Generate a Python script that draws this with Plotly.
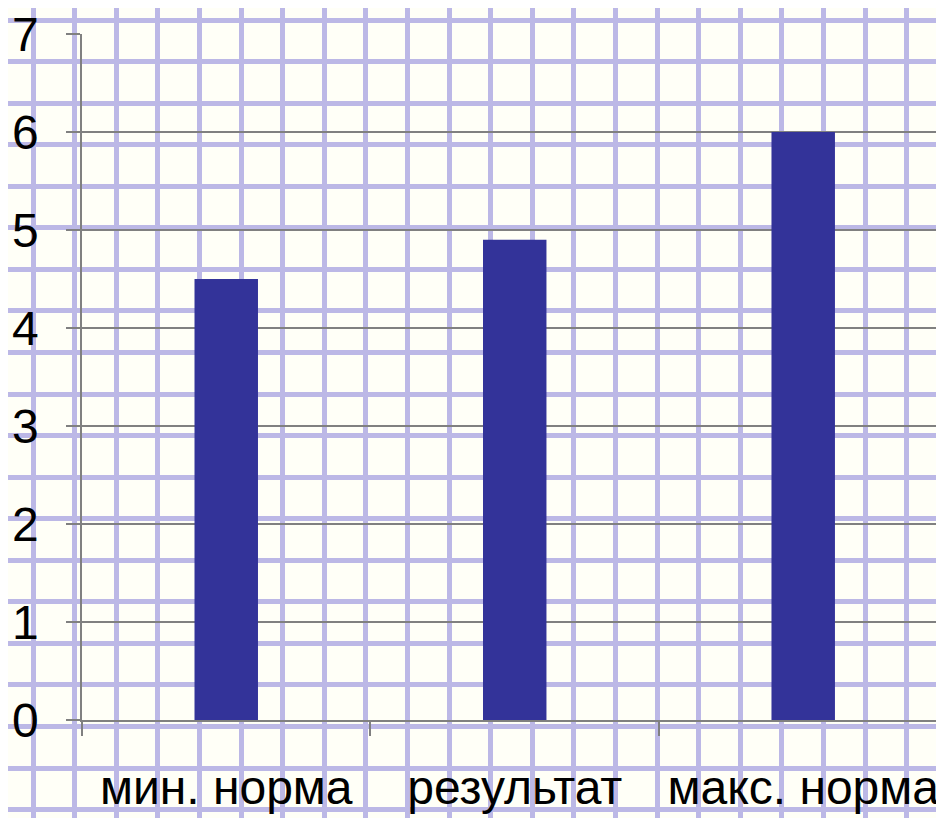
import plotly.graph_objects as go

categories = ["мин. норма", "результат", "макс. норма"]
values = [4.5, 4.9, 6.0]
y_ticks = [0, 1, 2, 3, 4, 5, 6, 7]

# the page body adds an 8px offset, so the figure is sized to fit the window
W, H = 936, 810
FONT = "Liberation Sans, Arial, sans-serif"
GRAY = "#808080"
PAPER_LINE = "#bcb8e6"

fig = go.Figure()

# decorative graph-paper background on its own full-figure axes (drawn first, beneath)
fig.add_trace(go.Scatter(x=[None], y=[None], xaxis="x", yaxis="y",
                         showlegend=False, hoverinfo="skip"))

# the chart itself
fig.add_trace(go.Bar(x=categories, y=values, xaxis="x2", yaxis="y2",
                     marker=dict(color="#333399", line=dict(width=0)),
                     showlegend=False))

fig.update_layout(
    width=W, height=H,
    margin=dict(l=0, r=0, t=0, b=0, pad=0),
    paper_bgcolor="#fffff7",
    plot_bgcolor="rgba(0,0,0,0)",
    bargap=0.78,
    font=dict(family=FONT, size=48, color="black"),
    xaxis=dict(domain=[0, 1], range=[0, W], anchor="y", automargin=False,
               tickmode="linear", tick0=25, dtick=41.6,
               showgrid=True, gridcolor=PAPER_LINE, gridwidth=5,
               showticklabels=False, ticks="", zeroline=False, showline=False,
               fixedrange=True),
    yaxis=dict(domain=[0, 1], range=[H, 0], anchor="x", automargin=False,
               tickmode="linear", tick0=12, dtick=41.56,
               showgrid=True, gridcolor=PAPER_LINE, gridwidth=5,
               showticklabels=False, ticks="", zeroline=False, showline=False,
               fixedrange=True),
    xaxis2=dict(domain=[74 / W, 1], anchor="y2", type="category",
                automargin=False, range=[-0.5, 2.488],
                tickson="boundaries", ticks="outside", ticklen=14,
                tickcolor=GRAY, tickwidth=1.5,
                showline=True, linecolor=GRAY, linewidth=1.5,
                showgrid=False, zeroline=False,
                tickfont=dict(family=FONT, size=48, color="black"),
                ticklabelstandoff=25, ticklabeloverflow="allow"),
    yaxis2=dict(domain=[98 / H, 784 / H], anchor="x2", automargin=False,
                range=[0, 7], tickmode="array", tickvals=y_ticks,
                ticks="outside", ticklen=14, tickcolor=GRAY, tickwidth=1.5,
                showline=True, linecolor=GRAY, linewidth=1.5,
                showgrid=True, gridcolor=GRAY, gridwidth=1.5,
                zeroline=False,
                tickfont=dict(family=FONT, size=48, color="black"),
                ticklabelstandoff=18, ticklabeloverflow="allow"),
)

fig.write_html("out.html")
